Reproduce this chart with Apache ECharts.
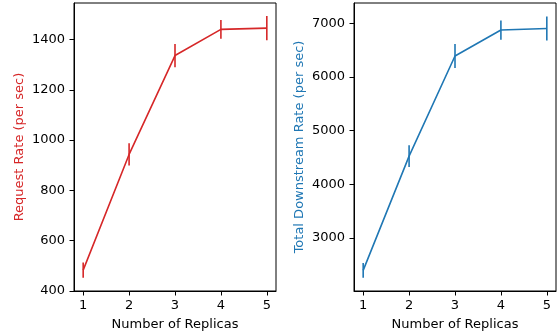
<!DOCTYPE html>
<html>
<head>
<meta charset="utf-8">
<script src="https://cdn.jsdelivr.net/npm/echarts@6/dist/echarts.min.js"></script>
<style>
  html, body { margin: 0; padding: 0; background: #fff; }
  #main { width: 558px; height: 336px; }
</style>
</head>
<body>
<div id="main"></div>
<script>
// data
var replicas = [1, 2, 3, 4, 5];
var requestRate = [483, 943, 1336, 1440, 1445];
var requestErr = [30, 44, 46, 37, 48];
var downstreamRate = [2394, 4523, 6388, 6871, 6901];
var downstreamErr = [136, 204, 223, 180, 223];

var replicaTicks = [1, 2, 3, 4, 5];
var requestTicks = [400, 600, 800, 1000, 1200, 1400];
var downstreamTicks = [3000, 4000, 5000, 6000, 7000];

var RED = '#d62728';
var BLUE = '#1f77b4';
var FONT = 'DejaVu Sans';

window.onload = function () {
    var myChart = echarts.init(document.getElementById('main'));

    function pairs(vals) {
        return replicas.map(function (x, i) { return [x, vals[i]]; });
    }
    function errRows(vals, errs) {
        return replicas.map(function (x, i) { return [x, vals[i] - errs[i], vals[i] + errs[i]]; });
    }
    function errBar(color) {
        return function (params, api) {
            var x = api.value(0);
            var p1 = api.coord([x, api.value(1)]);
            var p2 = api.coord([x, api.value(2)]);
            return {
                type: 'line',
                shape: { x1: p1[0], y1: p1[1], x2: p2[0], y2: p2[1] },
                style: { stroke: color, lineWidth: 1.6 }
            };
        };
    }
    // plain numbers, no thousands separator
    function plain(v) { return String(v); }

    function xAxis(idx) {
        return {
            type: 'value', gridIndex: idx, min: 0.8, max: 5.2,
            name: 'Number of Replicas', nameLocation: 'middle', nameGap: 27,
            nameTextStyle: { color: '#000', fontSize: 13, fontFamily: FONT },
            axisLine: { show: true, lineStyle: { color: '#000', width: 1 } },
            axisTick: { show: true, length: 4.5, lineStyle: { color: '#000' }, customValues: replicaTicks },
            axisLabel: { color: '#000', fontSize: 13, fontFamily: FONT, margin: 8, formatter: plain, customValues: replicaTicks },
            splitLine: { show: false }
        };
    }
    function yAxis(idx, min, max, ticks, title, color) {
        return {
            type: 'value', gridIndex: idx, min: min, max: max,
            name: title, nameLocation: 'middle', nameGap: 48,
            nameTextStyle: { color: color, fontSize: 13, fontFamily: FONT },
            axisLine: { show: true, lineStyle: { color: '#000', width: 1 } },
            axisTick: { show: true, length: 4.5, lineStyle: { color: '#000' }, customValues: ticks },
            axisLabel: { color: '#000', fontSize: 13, fontFamily: FONT, margin: 9, formatter: plain, customValues: ticks },
            splitLine: { show: false }
        };
    }

    var option = {
        animation: false,
        grid: [
            { left: 74, right: 282, top: 3, bottom: 44, show: true, borderColor: '#000', borderWidth: 1 },
            { left: 354, right: 2, top: 3, bottom: 44, show: true, borderColor: '#000', borderWidth: 1 }
        ],
        xAxis: [xAxis(0), xAxis(1)],
        yAxis: [
            yAxis(0, 400, 1545, requestTicks, 'Request Rate (per sec)', RED),
            yAxis(1, 2010, 7375, downstreamTicks, 'Total Downstream Rate (per sec)', BLUE)
        ],
        series: [
            {
                type: 'line', xAxisIndex: 0, yAxisIndex: 0, data: pairs(requestRate),
                showSymbol: false, lineStyle: { color: RED, width: 1.6 }, itemStyle: { color: RED }
            },
            {
                type: 'custom', xAxisIndex: 0, yAxisIndex: 0, data: errRows(requestRate, requestErr),
                encode: { x: 0, y: [1, 2] }, renderItem: errBar(RED)
            },
            {
                type: 'line', xAxisIndex: 1, yAxisIndex: 1, data: pairs(downstreamRate),
                showSymbol: false, lineStyle: { color: BLUE, width: 1.6 }, itemStyle: { color: BLUE }
            },
            {
                type: 'custom', xAxisIndex: 1, yAxisIndex: 1, data: errRows(downstreamRate, downstreamErr),
                encode: { x: 0, y: [1, 2] }, renderItem: errBar(BLUE)
            }
        ]
    };

    myChart.setOption(option);
};
</script>
</body>
</html>
